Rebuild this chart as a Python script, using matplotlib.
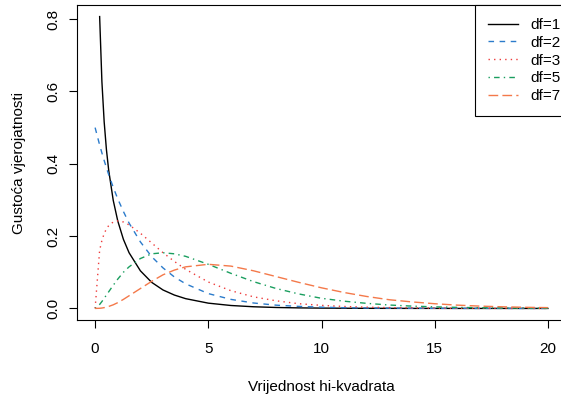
import numpy as np
import matplotlib
matplotlib.use("Agg")
import matplotlib.pyplot as plt

# values (densities at selected x positions)
x = [0, 0.2, 0.3, 0.4, 0.5, 0.6, 0.8, 1, 1.25, 1.5, 2, 2.5, 3, 3.5, 4, 5,
     6, 7, 8, 9, 10, 11, 12, 13, 14, 15, 16, 17, 18, 19, 20]
df1 = [np.nan, 0.807, 0.627, 0.516, 0.439, 0.382, 0.299, 0.242, 0.191, 0.154,
       0.104, 0.072, 0.051, 0.037, 0.027, 0.0146, 0.0081, 0.0046, 0.0026,
       0.0015, 0.0009, 0.0005, 0.0003, 0.0002, 0.0001, 0.0001, 0.0, 0.0,
       0.0, 0.0, 0.0]
df2 = [0.5, 0.452, 0.430, 0.409, 0.389, 0.370, 0.335, 0.303, 0.268, 0.236,
       0.184, 0.143, 0.112, 0.087, 0.068, 0.041, 0.025, 0.015, 0.009, 0.0056,
       0.0034, 0.002, 0.0012, 0.0008, 0.0005, 0.0003, 0.0002, 0.0001, 0.0001,
       0.0, 0.0]
df3 = [0.0, 0.161, 0.188, 0.207, 0.220, 0.229, 0.239, 0.242, 0.239, 0.231,
       0.208, 0.181, 0.154, 0.130, 0.108, 0.073, 0.049, 0.032, 0.021, 0.013,
       0.0085, 0.0054, 0.0034, 0.0022, 0.0014, 0.0009, 0.0005, 0.0003,
       0.0002, 0.0001, 0.0001]
df5 = [0.0, 0.011, 0.019, 0.028, 0.037, 0.046, 0.064, 0.081, 0.100, 0.115,
       0.138, 0.151, 0.154, 0.151, 0.144, 0.122, 0.097, 0.074, 0.055, 0.040,
       0.028, 0.020, 0.014, 0.0094, 0.0064, 0.0043, 0.0029, 0.0019, 0.0013,
       0.0008, 0.0005]
df7 = [0.0, 0.0004, 0.0011, 0.0022, 0.0037, 0.0055, 0.010, 0.016, 0.025,
       0.035, 0.055, 0.075, 0.093, 0.106, 0.115, 0.122, 0.117, 0.104, 0.088,
       0.072, 0.057, 0.044, 0.033, 0.024, 0.018, 0.013, 0.0091, 0.0064,
       0.0045, 0.0031, 0.0022]

series = [("df=1", df1), ("df=2", df2), ("df=3", df3), ("df=5", df5), ("df=7", df7)]
colors = ["black", "#2b7bcb", "#ee3b3b", "#1a9e5f", "#f4794a"]
dashes = [(), (4, 4), (1, 3), (1, 3, 4, 3), (7, 3)]

plt.rcParams["font.family"] = ["Liberation Sans", "DejaVu Sans"]

fig = plt.figure(figsize=(5.61, 3.95), dpi=100)
ax = fig.add_axes([77 / 561, 1 - 320 / 395, (566 - 77) / 561, 315 / 395])

for (lab, y), c, d in zip(series, colors, dashes):
    line, = ax.plot(x, y, color=c, lw=1.0, label=lab)
    if d:
        line.set_dashes(d)

ax.set_xlim(-0.8, 20.8)
ax.set_ylim(-0.032, 0.839)
ax.set_xticks([0, 5, 10, 15, 20])
ax.set_yticks([0.0, 0.2, 0.4, 0.6, 0.8])
ax.set_yticklabels(["0.0", "0.2", "0.4", "0.6", "0.8"], rotation=90, va="center")
ax.tick_params(length=6, width=0.8, labelsize=11, pad=6)
ax.tick_params(axis="x", pad=10)
for s in ax.spines.values():
    s.set_linewidth(0.8)

ax.set_xlabel("Vrijednost hi-kvadrata", fontsize=11, labelpad=17)
ax.set_ylabel("Gustoća vjerojatnosti", fontsize=11, labelpad=15)

leg = ax.legend(loc="upper right", bbox_to_anchor=(1.0 + 8 / 489, 1.0),
                borderaxespad=0, fancybox=False, edgecolor="black", fontsize=11,
                handlelength=1.96, labelspacing=0.25, borderpad=0.85,
                handletextpad=0.85, framealpha=1)
leg.get_frame().set_linewidth(0.8)
leg.set_clip_on(False)

fig.savefig("out.png", dpi=100)
